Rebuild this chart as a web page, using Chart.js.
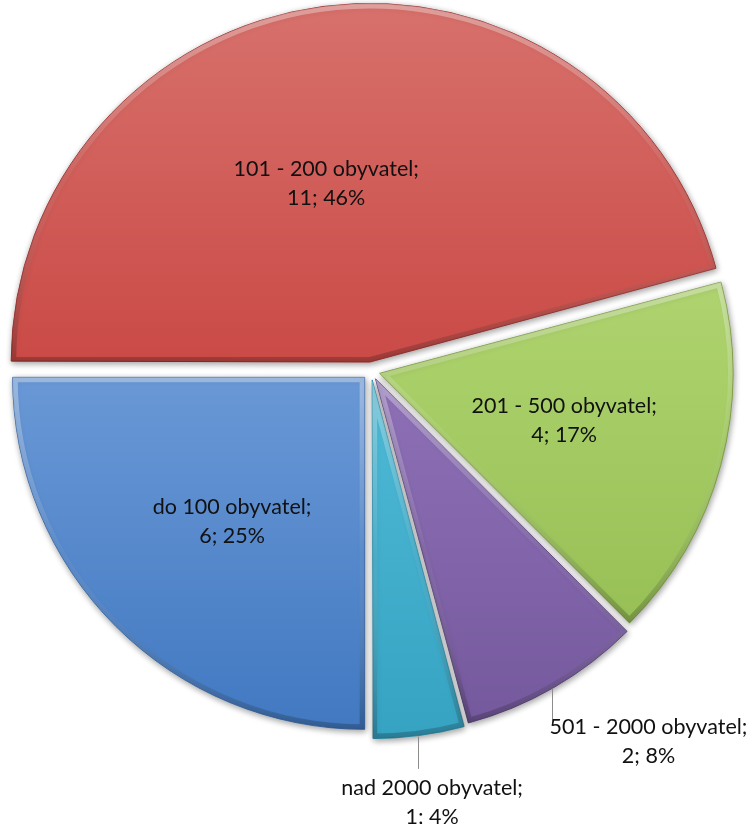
<!DOCTYPE html>
<html>
<head>
<meta charset="utf-8">
<script src="https://cdn.jsdelivr.net/npm/chart.js@4/dist/chart.umd.min.js"></script>
<style>
  html, body { margin: 0; padding: 0; background: #fff; }
</style>
</head>
<body>
<canvas id="pie" width="750" height="824"></canvas>
<script>
// data
const categories = ['do 100 obyvatel', '101 - 200 obyvatel', '201 - 500 obyvatel', '501 - 2000 obyvatel', 'nad 2000 obyvatel'];
const counts = [6, 11, 4, 2, 1];
const percents = [25, 46, 17, 8, 4];

// vertical gradient stops (top, middle, bottom of the pie) for each slice
const shades = [
  ['#86ade4', '#6a98d6', '#3f77c0'],
  ['#d8726d', '#ca4a46', '#b43b38'],
  ['#c0de88', '#a9cf68', '#8eb84d'],
  ['#a68bca', '#8e70b6', '#73579b'],
  ['#70c9e2', '#4fbad6', '#35a2c2']
];
const edgeColors = ['#3a6aa8', '#9e3431', '#7a9c3e', '#5e4782', '#2c8aa6'];

// where each label goes: inside at distance R from the centre, or outside with a leader line
const labelPlacement = [
  { R: 205, dx: 6, dy: 6 },
  { R: 190, dx: -20, dy: 1 },
  { R: 200, dx: 0, dy: -2 },
  { leader: 40, align: 'left', gap: 43, shift: -2 },
  { leader: 40, align: 'center', shift: 14, gap: 59 }
];

function sliceFill(context) {
  const chart = context.chart;
  const area = chart.chartArea;
  const s = shades[context.dataIndex];
  if (!area) return s[1];
  const g = chart.ctx.createLinearGradient(0, area.top, 0, area.bottom);
  g.addColorStop(0, s[0]);
  g.addColorStop(0.5, s[1]);
  g.addColorStop(1, s[2]);
  return g;
}

// geometry of a drawn arc, same as Chart.js ArcElement.draw does it
function arcGeometry(arc) {
  const p = arc.getProps(['x', 'y', 'startAngle', 'endAngle', 'outerRadius', 'circumference'], true);
  const off = (arc.options.offset || 0) / 4;
  const mid = (p.startAngle + p.endAngle) / 2;
  const fix = 1 - Math.sin(Math.min(Math.PI, p.circumference || 0));
  return {
    cx: p.x + Math.cos(mid) * off,
    cy: p.y + Math.sin(mid) * off,
    r: p.outerRadius + off * fix,
    r0: p.outerRadius,
    a0: p.startAngle, a1: p.endAngle, mid: mid,
    x: p.x, y: p.y
  };
}

const shadowPlugin = {
  id: 'sliceShadow',
  beforeDatasetsDraw(chart) {
    const c = chart.ctx;
    c.save();
    c.shadowColor = 'rgba(0,0,0,0.38)';
    c.shadowBlur = 6;
    c.shadowOffsetX = 1;
    c.shadowOffsetY = 2;
  },
  afterDatasetsDraw(chart) {
    chart.ctx.restore();
  }
};

// soft bevel: light top rim, dark bottom rim
const bevelPlugin = {
  id: 'bevel',
  afterDatasetsDraw(chart) {
    const c = chart.ctx;
    chart.getDatasetMeta(0).data.forEach(function (arc) {
      const g = arcGeometry(arc);
      let minY = g.cy, maxY = g.cy;
      for (let k = 0; k <= 40; k++) {
        const a = g.a0 + (g.a1 - g.a0) * k / 40;
        const yy = g.cy + Math.sin(a) * g.r;
        minY = Math.min(minY, yy);
        maxY = Math.max(maxY, yy);
      }
      c.save();
      c.beginPath();
      c.moveTo(g.cx, g.cy);
      c.arc(g.cx, g.cy, g.r, g.a0, g.a1);
      c.closePath();
      c.clip();
      const grad = c.createLinearGradient(0, minY, 0, maxY);
      grad.addColorStop(0, 'rgba(255,255,255,0.35)');
      grad.addColorStop(0.5, 'rgba(255,255,255,0.05)');
      grad.addColorStop(1, 'rgba(0,0,0,0.22)');
      c.strokeStyle = grad;
      c.lineWidth = 10;
      c.lineJoin = 'round';
      c.stroke();
      c.restore();
    });
  }
};

const labelPlugin = {
  id: 'sliceLabels',
  afterDraw(chart) {
    const c = chart.ctx;
    const lineH = 29;
    c.save();
    c.font = '21.5px Lato, "Open Sans", sans-serif';
    c.fillStyle = '#111';
    c.textAlign = 'center';
    c.textBaseline = 'middle';
    chart.getDatasetMeta(0).data.forEach(function (arc, i) {
      const g = arcGeometry(arc);
      const lines = [categories[i] + ';', counts[i] + '; ' + percents[i] + '%'];
      const place = labelPlacement[i];
      if (place.R) {
        const px = g.x + Math.cos(g.mid) * place.R + place.dx;
        const py = g.y + Math.sin(g.mid) * place.R + place.dy;
        c.fillText(lines[0], px, py - lineH / 2);
        c.fillText(lines[1], px, py + lineH / 2);
      } else {
        // anchor on the nominal rim, leader starts at the drawn rim
        const ex = g.cx + Math.cos(g.mid) * g.r0;
        const ey = g.cy + Math.sin(g.mid) * g.r0;
        const sy = g.cy + Math.sin(g.mid) * g.r;
        const lx = Math.round(ex) + 0.5;
        c.strokeStyle = '#8c8c8c';
        c.lineWidth = 1;
        c.beginPath();
        c.moveTo(lx, sy + 1);
        c.lineTo(lx, ey + place.leader);
        c.stroke();
        const w = Math.max(c.measureText(lines[0]).width, c.measureText(lines[1]).width);
        const tx = place.align === 'left' ? ex + w / 2 + place.shift : ex + place.shift;
        const ty = ey + place.gap;
        c.fillText(lines[0], tx, ty);
        c.fillText(lines[1], tx, ty + lineH);
      }
    });
    c.restore();
  }
};

new Chart(document.getElementById('pie'), {
  type: 'pie',
  data: {
    labels: categories,
    datasets: [{
      data: counts,
      backgroundColor: sliceFill,
      borderColor: edgeColors,
      borderWidth: 1,
      offset: 36,
      hoverOffset: 36
    }]
  },
  options: {
    responsive: false,
    animation: false,
    rotation: 180,
    radius: 352,
    layout: { padding: { left: 0, right: 8, top: 0, bottom: 82 } },
    plugins: {
      legend: { display: false },
      tooltip: { enabled: false }
    },
    events: []
  },
  plugins: [shadowPlugin, bevelPlugin, labelPlugin]
});
</script>
</body>
</html>
